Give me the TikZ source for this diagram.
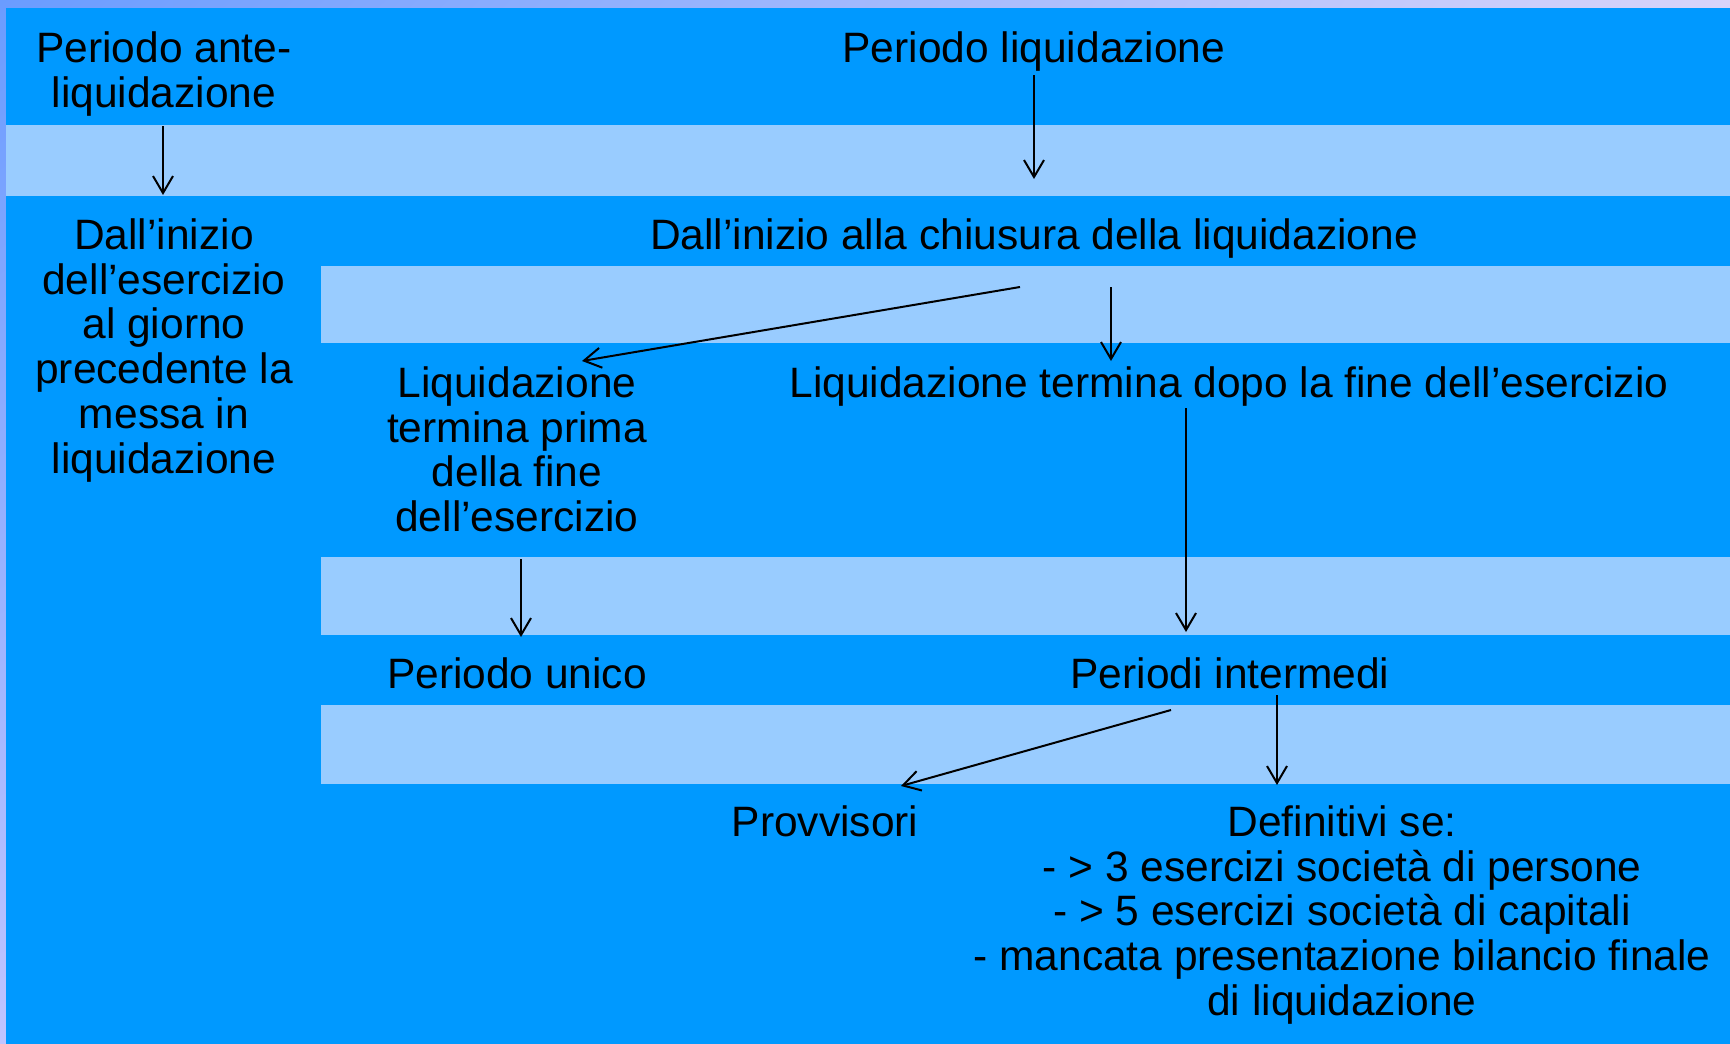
\documentclass[tikz,border=0pt]{standalone}
\usepackage{fontspec}
\setmainfont{Liberation Sans}
\usetikzlibrary{arrows.meta,shadings}
\definecolor{mainblue}{HTML}{0099FF}
\definecolor{bandblue}{HTML}{99CCFF}
\definecolor{bgUL}{HTML}{6A9CFF}
\definecolor{bgUR}{HTML}{D8D4FA}
\definecolor{bgLL}{HTML}{C0C4FF}
\definecolor{bgLR}{HTML}{ECE6FA}
\newcommand\lbfont{\fontsize{42.5}{44.8}\selectfont}
\tikzset{
  lbl/.style={anchor=north, yshift=31.36pt, inner sep=0pt, align=center, font=\lbfont, text=black},
  arr/.style={draw=black, line width=2pt, -{Straight Barb[length=17pt, width=20pt, line width=2pt]}},
  band/.style={fill=bandblue, draw=none}
}
\begin{document}
\begin{tikzpicture}[x=1pt, y=-1pt]
\useasboundingbox (0,0) rectangle (1730,1044);
% background
\shade[upper left=bgUL, upper right=bgUR, lower left=bgLL, lower right=bgLR] (0,0) rectangle (1730,1044);
\fill[mainblue] (6,8) rectangle (1730,1044);
% light bands
\fill[band] (6,125) rectangle (1730,196);
\fill[band] (321,266) rectangle (1730,343);
\fill[band] (321,557) rectangle (1730,635);
\fill[band] (321,705) rectangle (1730,784);
% texts
\node[lbl] (ante) at (164,62) {\strut Periodo ante-\\liquidazione};
\node[lbl] (liq) at (1034,62) {\strut Periodo liquidazione};
\node[lbl] (left) at (164,249) {\strut Dall’inizio\\dell’esercizio\\al giorno\\precedente la\\messa in\\liquidazione};
\node[lbl] (chius) at (1034,249) {\strut Dall’inizio alla chiusura della liquidazione};
\node[lbl] (prima) at (517,397) {\strut Liquidazione\\termina prima\\della fine\\dell’esercizio};
\node[lbl] (dopo) at (1229,397) {\strut Liquidazione termina dopo la fine dell’esercizio};
\node[lbl] (unico) at (517,688) {\strut Periodo unico};
\node[lbl] (interm) at (1230,688) {\strut Periodi intermedi};
\node[lbl] (provv) at (825,836) {\strut Provvisori};
\node[lbl] (defin) at (1342,836) {\strut Definitivi se:\\- > 3 esercizi società di persone\\- > 5 esercizi società di capitali\\- mancata presentazione bilancio finale\\di liquidazione};
% connector end points
\coordinate (anteS) at (163,126);
\coordinate (leftN) at (163,195);
\coordinate (liqS) at (1034,75);
\coordinate (band1T) at (1034,179);
\coordinate (chiusA) at (1020,287);
\coordinate (primaN) at (582,361);
\coordinate (chiusB) at (1111,287);
\coordinate (dopoN) at (1111,361);
\coordinate (dopoS) at (1186,408);
\coordinate (intermN) at (1186,632);
\coordinate (primaS) at (521,559);
\coordinate (unicoN) at (521,637);
\coordinate (intermA) at (1171,710);
\coordinate (provvN) at (901,786);
\coordinate (intermB) at (1277,695);
\coordinate (definN) at (1277,785);
% connectors
\draw[arr] (anteS) -- (leftN);
\draw[arr] (liqS) -- (band1T);
\draw[arr] (chiusA) -- (primaN);
\draw[arr] (chiusB) -- (dopoN);
\draw[arr] (dopoS) -- (intermN);
\draw[arr] (primaS) -- (unicoN);
\draw[arr] (intermA) -- (provvN);
\draw[arr] (intermB) -- (definN);
\end{tikzpicture}
\end{document}
